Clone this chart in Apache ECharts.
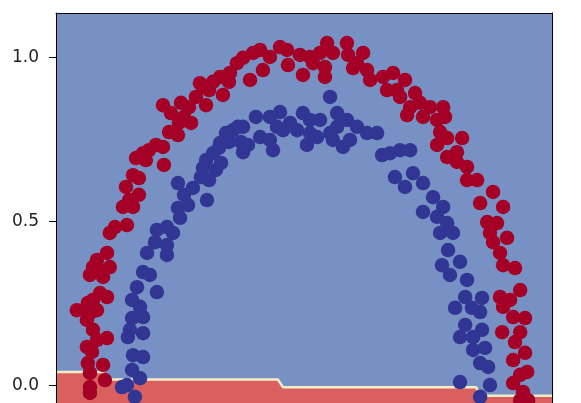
<!DOCTYPE html>
<html>
<head>
<meta charset="utf-8">
<script src="https://cdn.jsdelivr.net/npm/echarts@6/dist/echarts.min.js"></script>
<style>
  html, body { margin: 0; padding: 0; background: #fff; }
  #chart { width: 581px; height: 403px; }
</style>
</head>
<body>
<div id="chart"></div>
<script>
// axis ranges (the picture is cut at the bottom, just under y = 0)
var xRange = [-1.051, 1.068];
var yRange = [-0.0527, 1.1346];
var yTicks = [0, 0.5, 1.0];

// decision boundary of the contourf (red class below it)
var boundaryX = [-1.051, -0.85, -0.838, -0.103, -0.081, 0.744, 0.761, 1.068];
var boundaryY = [0.042, 0.042, 0.019, 0.019, -0.005, -0.005, -0.031, -0.031];

// outer ring (label 0, red)
var redX = [-0.906, -0.906, -0.906, -0.842, -0.915, -0.850, -0.919, -0.897, -0.876, -0.833,
  -0.893, -0.919, -0.906, -0.876, -0.962, -0.915, -0.893, -0.863, -0.833, -0.906,
  -0.850, -0.893, -0.821, -0.863, -0.876, -0.833, -0.821, -0.799, -0.748, -0.765,
  -0.722, -0.739, -0.697, -0.752, -0.722, -0.697, -0.709, -0.679, -0.654, -0.667,
  -0.624, -0.594, -0.590, -0.568, -0.530, -0.526, -0.504, -0.474, -0.560, -0.594,
  -0.517, -0.483, -0.453, -0.410, -0.423, -0.397, -0.338, -0.436, -0.380, -0.350,
  -0.312, -0.308, -0.278, -0.252, -0.222, -0.209, -0.179, -0.167, -0.137, -0.094,
  -0.064, -0.060, -0.009, 0.004, 0.034, 0.047, 0.077, 0.107, 0.098, 0.098,
  0.132, 0.192, 0.197, 0.235, 0.261, 0.278, 0.291, 0.346, 0.389, 0.406,
  0.363, 0.218, 0.440, 0.419, 0.483, 0.462, 0.504, 0.547, 0.603, 0.449,
  0.517, 0.577, 0.611, 0.590, 0.620, 0.684, 0.577, 0.620, 0.662, 0.662,
  0.705, 0.705, 0.748, 0.816, 0.761, 0.859, 0.791, 0.833, 0.803, 0.876,
  0.816, 0.846, 0.859, 0.910, 0.932, 0.846, 0.889, 0.859, 0.902, 0.953,
  0.855, 0.932, 0.910, 0.953, 0.902, 0.962, 0.932, 0.902, 0.944, 0.932, 0.966];
var redY = [-0.022, -0.004, 0.039, 0.017, 0.069, 0.063, 0.118, 0.103, 0.139, 0.145,
  0.170, 0.200, 0.221, 0.230, 0.230, 0.252, 0.261, 0.282, 0.270, 0.337,
  0.331, 0.361, 0.361, 0.352, 0.383, 0.404, 0.465, 0.483, 0.489, 0.544,
  0.544, 0.565, 0.581, 0.605, 0.641, 0.632, 0.693, 0.708, 0.717, 0.687,
  0.733, 0.727, 0.672, 0.772, 0.763, 0.800, 0.818, 0.800, 0.830, 0.854,
  0.861, 0.848, 0.879, 0.854, 0.909, 0.900, 0.885, 0.921, 0.925, 0.940,
  0.925, 0.952, 0.982, 0.998, 0.931, 1.013, 1.022, 0.961, 1.001, 1.031,
  1.022, 0.976, 1.007, 0.946, 1.001, 0.982, 1.013, 1.043, 0.970, 0.940,
  1.013, 1.043, 1.007, 0.982, 1.013, 0.961, 0.931, 0.940, 0.952, 0.900,
  0.900, 0.967, 0.931, 0.879, 0.891, 0.848, 0.861, 0.848, 0.848, 0.824,
  0.818, 0.809, 0.818, 0.772, 0.754, 0.754, 0.733, 0.696, 0.711, 0.681,
  0.666, 0.626, 0.626, 0.590, 0.556, 0.544, 0.498, 0.495, 0.465, 0.450,
  0.437, 0.404, 0.367, 0.358, 0.291, 0.270, 0.261, 0.240, 0.209, 0.206,
  0.163, 0.163, 0.133, 0.100, 0.078, 0.042, 0.033, 0.008, -0.019, -0.044, -0.044];

// inner ring (label 1, blue)
var blueX = [-0.714, -0.769, -0.748, -0.692, -0.726, -0.722, -0.679, -0.744, -0.679, -0.735,
  -0.726, -0.679, -0.692, -0.726, -0.620, -0.705, -0.679, -0.650, -0.662, -0.577,
  -0.628, -0.577, -0.620, -0.551, -0.577, -0.521, -0.530, -0.487, -0.406, -0.504,
  -0.466, -0.530, -0.432, -0.397, -0.423, -0.368, -0.346, -0.410, -0.380, -0.355,
  -0.325, -0.312, -0.261, -0.231, -0.252, -0.274, -0.197, 0.120, -0.094, -0.137,
  0.004, 0.034, 0.077, 0.150, 0.192, 0.150, 0.235, 0.278, 0.321, -0.051,
  -0.107, -0.179, -0.137, -0.081, -0.021, 0.034, 0.064, 0.120, 0.132, -0.252,
  -0.295, -0.350, -0.124, 0.021, 0.175, 0.205, 0.342, 0.376, 0.419, 0.462,
  0.397, 0.474, 0.440, 0.517, 0.560, 0.603, 0.517, 0.577, 0.620, 0.590,
  0.645, 0.624, 0.598, 0.675, 0.632, 0.705, 0.697, 0.769, 0.654, 0.726,
  0.761, 0.697, 0.769, 0.675, 0.731, 0.731, 0.782, 0.761, 0.795, 0.675,
  0.803, 0.761];
var blueY = [-0.034, -0.004, 0.002, 0.023, 0.048, 0.093, 0.087, 0.148, 0.160, 0.170,
  0.206, 0.209, 0.240, 0.261, 0.285, 0.300, 0.346, 0.337, 0.404, 0.398,
  0.437, 0.428, 0.474, 0.465, 0.483, 0.511, 0.541, 0.550, 0.565, 0.581,
  0.602, 0.617, 0.635, 0.626, 0.663, 0.657, 0.678, 0.687, 0.708, 0.724,
  0.769, 0.742, 0.742, 0.733, 0.711, 0.788, 0.818, 0.879, 0.833, 0.818,
  0.830, 0.809, 0.809, 0.830, 0.809, 0.788, 0.788, 0.769, 0.769, 0.800,
  0.788, 0.757, 0.748, 0.778, 0.778, 0.769, 0.757, 0.769, 0.748, 0.788,
  0.778, 0.739, 0.717, 0.733, 0.727, 0.748, 0.702, 0.708, 0.717, 0.717,
  0.635, 0.647, 0.605, 0.617, 0.574, 0.544, 0.529, 0.514, 0.495, 0.465,
  0.465, 0.413, 0.367, 0.377, 0.337, 0.322, 0.270, 0.267, 0.237, 0.237,
  0.224, 0.185, 0.170, 0.148, 0.148, 0.109, 0.115, 0.069, 0.057, 0.011,
  0.002, -0.034];

function pairs(xs, ys) {
  var out = [];
  for (var i = 0; i < xs.length; i++) {
    out.push([xs[i], ys[i]]);
  }
  return out;
}

var chart = echarts.init(document.getElementById('chart'));

var spine = { show: true, onZero: false, lineStyle: { color: '#000', width: 1 } };

var option = {
  animation: false,
  backgroundColor: '#fff',
  textStyle: { fontFamily: 'DejaVu Sans' },
  grid: {
    left: 56, right: 29, top: 13, bottom: 0,
    show: true,
    backgroundColor: '#7791c4',
    borderWidth: 0
  },
  xAxis: {
    type: 'value',
    position: 'top',
    min: xRange[0],
    max: xRange[1],
    z: 10,
    axisLine: spine,
    axisTick: { show: false },
    axisLabel: { show: false },
    splitLine: { show: false }
  },
  yAxis: [
    {
      type: 'value',
      position: 'left',
      min: yRange[0],
      max: yRange[1],
      z: 10,
      axisLine: spine,
      axisTick: { show: true, length: 7, customValues: yTicks, lineStyle: { color: '#000' } },
      axisLabel: {
        customValues: yTicks,
        color: '#222',
        fontSize: 17,
        margin: 17,
        fontFamily: 'DejaVu Sans',
        formatter: function (v) { return v.toFixed(1); }
      },
      splitLine: { show: false }
    },
    {
      type: 'value',
      position: 'right',
      min: yRange[0],
      max: yRange[1],
      z: 10,
      axisLine: spine,
      axisTick: { show: false },
      axisLabel: { show: false },
      splitLine: { show: false }
    }
  ],
  series: [
    {
      name: 'boundary',
      type: 'line',
      data: pairs(boundaryX, boundaryY),
      showSymbol: false,
      silent: true,
      z: 1,
      lineStyle: { color: '#f4edc6', width: 2.5 },
      areaStyle: { color: '#d9605f', opacity: 1, origin: 'start' }
    },
    {
      name: 'class 0',
      type: 'scatter',
      data: pairs(redX, redY),
      symbolSize: 14.5,
      z: 3,
      itemStyle: { color: '#a50026', opacity: 1 }
    },
    {
      name: 'class 1',
      type: 'scatter',
      data: pairs(blueX, blueY),
      symbolSize: 14.5,
      z: 3,
      itemStyle: { color: '#313695', opacity: 1 }
    }
  ]
};

chart.setOption(option);
</script>
</body>
</html>
